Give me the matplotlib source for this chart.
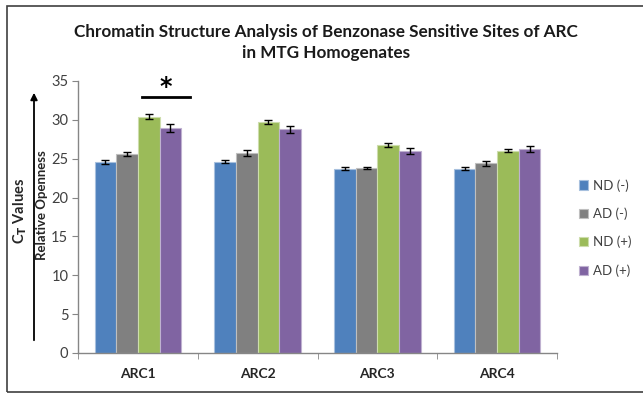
import matplotlib
matplotlib.use("Agg")
import matplotlib.pyplot as plt
import numpy as np

# Valeurs Ct moyennes par site et par condition
sites = ["ARC1", "ARC2", "ARC3", "ARC4"]
groupes = ["ND (-)", "AD (-)", "ND (+)", "AD (+)"]
nd_moins = [24.6, 24.6, 23.7, 23.7]
ad_moins = [25.6, 25.7, 23.8, 24.4]
nd_plus = [30.4, 29.7, 26.8, 26.0]
ad_plus = [29.0, 28.8, 26.0, 26.2]
err_nd_moins = [0.25, 0.2, 0.2, 0.2]
err_ad_moins = [0.3, 0.4, 0.15, 0.3]
err_nd_plus = [0.35, 0.25, 0.25, 0.2]
err_ad_plus = [0.5, 0.45, 0.35, 0.4]

couleurs = ["#4F81BD", "#808080", "#9BBB59", "#8064A2"]
bords = ["#A7C0DE", "#BFBFBF", "#CDDDAC", "#BFB1D0"]

plt.rcParams['font.family'] = ['Lato', 'DejaVu Sans']

fig = plt.figure(figsize=(6.43, 3.94), dpi=100)
fig.patch.set_facecolor('white')

# Cadre autour du graphique
cadre = plt.Rectangle((7 / 643, 1 - 392 / 394), 1.0, (392 - 6) / 394,
                      transform=fig.transFigure, fill=False,
                      edgecolor='#404040', linewidth=1.2)
fig.patches.append(cadre)

ax = fig.add_axes([78 / 643, 1 - 353 / 394, (557 - 78) / 643, (353 - 81) / 394])

x = np.arange(len(sites))
largeur = 0.181
series = [nd_moins, ad_moins, nd_plus, ad_plus]
erreurs = [err_nd_moins, err_ad_moins, err_nd_plus, err_ad_plus]
for i, (vals, errs) in enumerate(zip(series, erreurs)):
    pos = x + (i - 1.5) * largeur
    ax.bar(pos, vals, width=largeur, color=couleurs[i], edgecolor=bords[i],
           linewidth=0.8, label=groupes[i], zorder=2)
    ax.errorbar(pos, vals, yerr=errs, fmt='none', ecolor='black',
                elinewidth=1.0, capsize=3, capthick=1.0, zorder=3)

ax.set_xlim(-0.5, len(sites) - 0.5)
ax.set_ylim(0, 35)
ax.set_yticks(range(0, 36, 5))
ax.set_xticks(x)
ax.set_xticklabels(sites, fontweight='bold', fontsize=10, color='#262626')
ax.set_xticks(np.arange(-0.5, len(sites), 1.0), minor=True)
ax.tick_params(axis='x', which='major', length=0, pad=11)
ax.tick_params(axis='x', which='minor', length=4, color='#868686', direction='out')
ax.tick_params(axis='y', length=4, color='#868686', direction='out',
               labelsize=10.5, labelcolor='#404040', pad=3)

for cote in ['top', 'right']:
    ax.spines[cote].set_visible(False)
for cote in ['left', 'bottom']:
    ax.spines[cote].set_color('#868686')
    ax.spines[cote].set_linewidth(1.0)

# Significativité entre ND (+) et AD (+) pour ARC1
x1 = x[0] + 0.5 * largeur - 0.06
x2 = x[0] + 2.5 * largeur - 0.02
ax.plot([x1, x2], [32.9, 32.9], color='black', linewidth=2, clip_on=False)
ax.text((x1 + x2) / 2, 32.7, "*", ha='center', va='bottom', fontsize=17,
        fontweight='bold', clip_on=False, family='DejaVu Sans')

fig.text(326 / 643, 1 - 32 / 394, "Chromatin Structure Analysis of Benzonase Sensitive Sites of ARC",
         ha='center', va='center', fontsize=12.3, fontweight='bold', color='#1a1a1a')
fig.text(326 / 643, 1 - 53 / 394, "in MTG Homogenates",
         ha='center', va='center', fontsize=12.3, fontweight='bold', color='#1a1a1a')

# Titres de l'axe vertical et flèche
fig.text(20 / 643, 1 - 211 / 394, r"C$_\mathbf{T}$ Values", rotation=90,
         ha='center', va='center', fontsize=10.5, fontweight='bold', color='#262626')
fig.text(42 / 643, 1 - 205 / 394, "Relative Openness", rotation=90,
         ha='center', va='center', fontsize=9.5, fontweight='bold', color='#262626')
fig.patches.append(matplotlib.patches.FancyArrowPatch(
    (34 / 643, 1 - 343 / 394), (34 / 643, 1 - 90 / 394),
    transform=fig.transFigure, arrowstyle='-|>', mutation_scale=10,
    color='black', linewidth=1.3))

handles, labels = ax.get_legend_handles_labels()
fig.legend(handles, labels, loc='center left', bbox_to_anchor=(567 / 643, 1 - 228 / 394),
           frameon=False, fontsize=9.5, handlelength=0.7, handleheight=0.7,
           handletextpad=0.4, labelspacing=1.2, labelcolor='#404040')

fig.savefig("out.png", dpi=100)
